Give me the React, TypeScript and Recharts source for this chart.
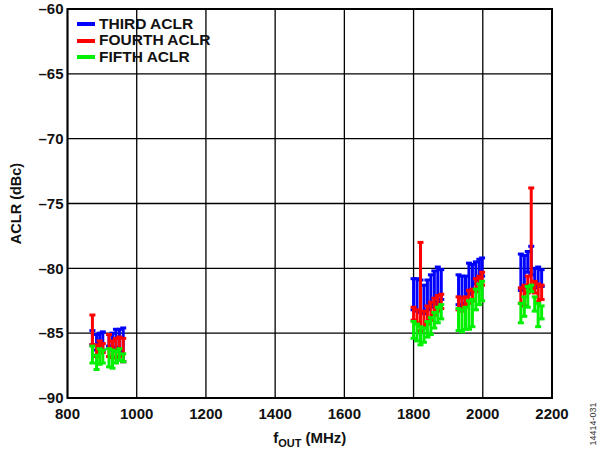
import {
  ComposedChart,
  Scatter,
  ErrorBar,
  XAxis,
  YAxis,
  CartesianGrid,
  Legend,
  ReferenceArea,
  Label,
} from "recharts";

const FONT = "'Liberation Sans', Arial, Helvetica, sans-serif";

// output frequency of each measured carrier, MHz
const freqMHz = [
  872, 884, 893, 902, 920, 930, 940, 950, 961,
  1800, 1810, 1820, 1830, 1840, 1850, 1860, 1870, 1880,
  1930, 1940, 1950, 1960, 1970, 1980, 1990, 1998,
  2110, 2120, 2130, 2140, 2150, 2160, 2170,
];

// min / max ACLR across the measurement spread, dBc
const thirdLow = [
  -85.9, -86.3, -86.2, -86.3, -86.0, -86.3, -86.1, -86.4, -87.2,
  -83.2, -83.3, -83.4, -83.5, -83.2, -83.0, -82.8, -82.6, -82.4,
  -82.8, -82.9, -82.7, -82.0, -81.8, -81.2, -80.9, -80.6,
  -81.7, -81.5, -80.3, -80.5, -81.5, -81.3, -81.4,
];
const thirdHigh = [
  -84.8, -85.1, -85.0, -84.9, -85.1, -85.0, -84.7, -84.7, -84.6,
  -80.8, -80.8, -80.9, -81.3, -80.9, -80.5, -80.2, -79.9, -80.1,
  -80.5, -80.6, -80.6, -79.6, -79.7, -79.5, -79.3, -79.2,
  -78.9, -79.0, -78.7, -78.3, -80.0, -79.9, -80.1,
];
const fourthLow = [
  -85.9, -86.8, -86.5, -86.5, -86.8, -86.9, -86.9, -86.8, -87.2,
  -84.0, -84.2, -84.8, -84.5, -84.3, -84.0, -83.6, -83.3, -83.1,
  -83.2, -83.3, -82.9, -82.7, -82.5, -81.8, -81.5, -81.3,
  -82.7, -82.9, -81.9, -81.6, -81.9, -82.6, -82.4,
];
const fourthHigh = [
  -83.6, -85.9, -85.6, -85.8, -85.1, -85.6, -85.4, -85.3, -85.4,
  -83.0, -83.2, -78.0, -83.3, -82.9, -82.6, -82.3, -82.1, -82.0,
  -82.2, -82.3, -82.2, -81.7, -81.6, -80.8, -80.6, -80.3,
  -81.5, -81.3, -80.6, -73.8, -81.0, -81.2, -81.3,
];
const fifthLow = [
  -87.3, -87.8, -87.4, -87.3, -87.6, -87.7, -87.3, -87.1, -87.2,
  -85.4, -85.6, -85.9, -85.7, -85.3, -85.1, -84.6, -84.2, -83.9,
  -84.8, -84.9, -84.7, -84.7, -84.5, -83.2, -82.8, -82.5,
  -84.2, -83.7, -83.0, -81.8, -83.3, -84.5, -83.9,
];
const fifthHigh = [
  -86.0, -86.7, -86.2, -86.3, -86.2, -86.3, -86.4, -86.2, -86.6,
  -84.1, -84.3, -84.5, -84.6, -84.1, -83.8, -83.4, -83.0, -82.8,
  -83.1, -83.2, -83.0, -82.5, -82.4, -81.6, -81.2, -81.0,
  -82.7, -82.2, -81.4, -81.3, -82.2, -82.7, -82.9,
];

const xTicks = [800, 1000, 1200, 1400, 1600, 1800, 2000, 2200];
const yTicks = [-90, -85, -80, -75, -70, -65, -60];

const toRows = (low: number[], high: number[]) =>
  freqMHz.map((f, i) => {
    const mid = (low[i] + high[i]) / 2;
    return { f, mid, err: [mid - low[i], high[i] - mid] };
  });

const series = [
  { name: "THIRD ACLR", color: "#0000ff", rows: toRows(thirdLow, thirdHigh) },
  { name: "FOURTH ACLR", color: "#ff0000", rows: toRows(fourthLow, fourthHigh) },
  { name: "FIFTH ACLR", color: "#00f000", rows: toRows(fifthLow, fifthHigh) },
];

const noDot = () => <g />;

const renderLegend = () => (
  <div style={{ fontFamily: FONT, fontWeight: "bold", fontSize: 15.5, lineHeight: "16.7px", color: "#111" }}>
    {series.map((s) => (
      <div key={s.name} style={{ display: "flex", alignItems: "center", whiteSpace: "nowrap" }}>
        <span style={{ display: "inline-block", width: 18, height: 4, background: s.color, marginRight: 4 }} />
        {s.name}
      </div>
    ))}
  </div>
);

const yLabel = (props: any) => {
  const vb = props.viewBox;
  const cx = vb.x + 8;
  const cy = vb.y + vb.height / 2;
  return (
    <text
      x={cx}
      y={cy}
      transform={`rotate(-90, ${cx}, ${cy})`}
      textAnchor="middle"
      dominantBaseline="central"
      fontFamily={FONT}
      fontWeight="bold"
      fontSize={14.5}
      fill="#111"
    >
      ACLR (dBc)
    </text>
  );
};

const xLabel = (props: any) => {
  const vb = props.viewBox;
  const cx = vb.x + vb.width / 2;
  return (
    <text x={cx} y={vb.y + 45} textAnchor="middle" fontFamily={FONT} fontWeight="bold" fontSize={15} fill="#111">
      f
      <tspan fontSize={11} dy={4}>OUT</tspan>
      <tspan dy={-4}> (MHz)</tspan>
    </text>
  );
};

export default function App() {
  const tick = { fontFamily: FONT, fontWeight: "bold", fontSize: 15, fill: "#111" };
  return (
    <div style={{ position: "absolute", left: 0, top: 0, width: 600, height: 457, background: "#fff" }}>
      <ComposedChart width={600} height={457} margin={{ top: 9, right: 48, bottom: 29, left: 7.5 }}>
        <CartesianGrid stroke="#000" strokeWidth={1.3} />
        <XAxis
          type="number"
          dataKey="f"
          domain={[800, 2200]}
          ticks={xTicks}
          allowDataOverflow
          axisLine={false}
          tickLine={false}
          tickSize={0}
          tickMargin={10}
          height={30}
          tick={tick}
        >
          <Label content={xLabel} />
        </XAxis>
        <YAxis
          type="number"
          dataKey="mid"
          domain={[-90, -60]}
          ticks={yTicks}
          allowDataOverflow
          axisLine={false}
          tickLine={false}
          tickSize={0}
          tickMargin={4}
          width={60}
          tick={tick}
          tickFormatter={(v: number) => `–${Math.abs(v)}`}
        >
          <Label content={yLabel} />
        </YAxis>
        <ReferenceArea x1={800} x2={2200} y1={-90} y2={-60} fill="none" stroke="#000" strokeWidth={2} />
        {series.map((s) => (
          <Scatter key={s.name} name={s.name} data={s.rows} fill={s.color} shape={noDot} isAnimationActive={false}>
            <ErrorBar dataKey="err" direction="y" width={3} stroke={s.color} strokeWidth={3} isAnimationActive={false} />
          </Scatter>
        ))}
        <Legend
          layout="vertical"
          align="center"
          verticalAlign="middle"
          content={renderLegend}
          wrapperStyle={{ left: 77, top: 15.5, width: "auto" }}
        />
      </ComposedChart>
      <div
        style={{
          position: "absolute",
          left: 593,
          top: 424,
          transform: "translate(-50%, -50%) rotate(-90deg)",
          fontFamily: FONT,
          fontSize: 9,
          color: "#333",
          whiteSpace: "nowrap",
        }}
      >
        14414-031
      </div>
    </div>
  );
}
